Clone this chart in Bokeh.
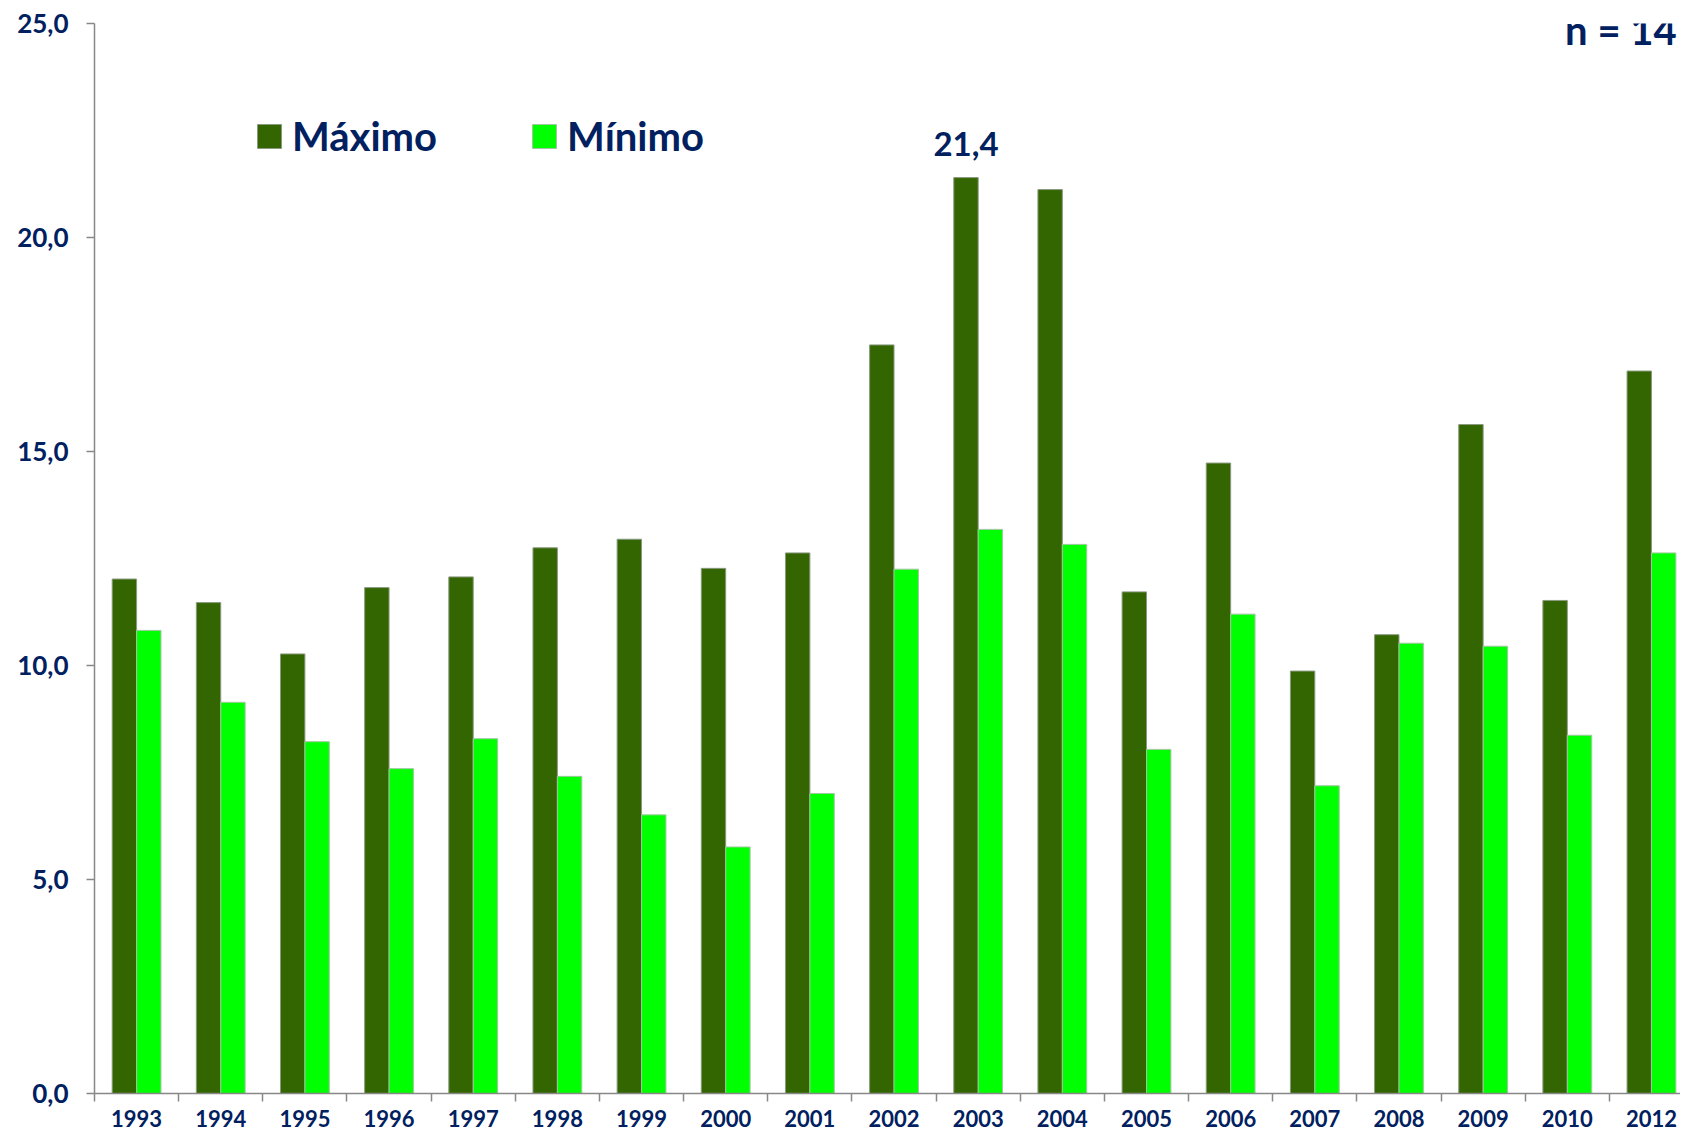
import numpy as np
from bokeh.plotting import figure
from bokeh.models import ColumnDataSource, FixedTicker, Legend, LegendItem, Label
from bokeh.transform import dodge
from bokeh.core.properties import value
from bokeh.embed import file_html
from bokeh.resources import INLINE

years = ["1993", "1994", "1995", "1996", "1997", "1998", "1999", "2000", "2001",
         "2002", "2003", "2004", "2005", "2006", "2007", "2008", "2009", "2010", "2012"]
maximo = [12.02, 11.47, 10.27, 11.82, 12.07, 12.75, 12.95, 12.27, 12.63,
          17.49, 21.40, 21.12, 11.72, 14.73, 9.87, 10.72, 15.63, 11.52, 16.88]
minimo = [10.82, 9.14, 8.22, 7.59, 8.29, 7.41, 6.51, 5.76, 7.01,
          12.25, 13.18, 12.83, 8.04, 11.20, 7.19, 10.52, 10.45, 8.37, 12.63]
y_ticks = [0, 5, 10, 15, 20, 25]
y_tick_labels = ["0,0", "5,0", "10,0", "15,0", "20,0", "25,0"]
series_names = ["Máximo", "Mínimo"]
sample_note = "n = 14"

NAVY = "#002060"
DARK = "#336600"
LIGHT = "#00FF00"
GRAY = "#888888"
FONT = "Lato"

n = len(years)
idx = list(range(n))
src = ColumnDataSource(dict(x=idx, maximo=maximo, minimo=minimo))

p = figure(width=1680, height=1134, x_range=(-0.5, 18.345), y_range=(0, 25),
           output_backend="svg", toolbar_location=None,
           min_border_left=94, min_border_right=0, min_border_top=23, min_border_bottom=41)
p.outline_line_color = None
p.grid.visible = False
p.background_fill_color = "white"

r1 = p.vbar(x=dodge("x", -0.145, range=p.x_range), top="maximo", width=0.29, source=src,
            fill_color=DARK, line_color="#8a9a80", line_width=1)
r2 = p.vbar(x=dodge("x", 0.145, range=p.x_range), top="minimo", width=0.29, source=src,
            fill_color=LIGHT, line_color="#a0c8a0", line_width=1)

# y axis
ya = p.yaxis[0]
ya.ticker = FixedTicker(ticks=y_ticks)
ya.major_label_overrides = {t: l for t, l in zip(y_ticks, y_tick_labels)}
ya.minor_tick_line_color = None
ya.major_tick_out = 8
ya.major_tick_in = 0
ya.major_tick_line_color = GRAY
ya.major_tick_line_width = 1.5
ya.axis_line_color = GRAY
ya.axis_line_width = 1.5
ya.major_label_text_font = FONT
ya.major_label_text_font_style = "bold"
ya.major_label_text_font_size = "26px"
ya.major_label_text_color = NAVY
ya.major_label_standoff = 18

# x axis
xa = p.xaxis[0]
xa.ticker = FixedTicker(ticks=idx, minor_ticks=[i - 0.5 for i in range(n + 1)])
xa.major_label_overrides = {i: y for i, y in zip(idx, years)}
xa.major_tick_in = 0
xa.major_tick_out = 0
xa.major_tick_line_color = None
xa.minor_tick_in = 0
xa.minor_tick_out = 8
xa.minor_tick_line_color = GRAY
xa.minor_tick_line_width = 1.5
xa.axis_line_color = GRAY
xa.axis_line_width = 1.5
xa.major_label_text_font = FONT
xa.major_label_text_font_style = "bold"
xa.major_label_text_font_size = "22px"
xa.major_label_text_color = NAVY
xa.major_label_standoff = 8

# peak label
imax = int(np.argmax(maximo))
peak_src = ColumnDataSource(dict(x=[imax], y=[maximo[imax]],
                                 t=[f"{maximo[imax]:.1f}".replace(".", ",")]))
p.text(x=dodge("x", -0.145, range=p.x_range), y="y", text="t", source=peak_src,
       text_align="center", text_baseline="alphabetic", y_offset=-34,
       text_font=value(FONT), text_font_style="bold", text_font_size="33px",
       text_color=NAVY)

# legend
legend = Legend(items=[LegendItem(label=series_names[0], renderers=[r1]),
                       LegendItem(label=series_names[1], renderers=[r2])],
                orientation="horizontal", location=(160, 933),
                glyph_width=30, glyph_height=30, label_standoff=8, spacing=92,
                label_text_font=FONT, label_text_font_style="bold",
                label_text_font_size="40px", label_text_color=NAVY,
                padding=0, margin=0, border_line_color=None, background_fill_alpha=0)
p.add_layout(legend)

note = Label(x=18.30, y=25.40, text=sample_note, text_font=FONT, text_font_style="bold",
             text_font_size="40px", text_color=NAVY, text_baseline="top", text_align="right")
p.add_layout(note)

open("out.html", "w").write(file_html(p, INLINE))
